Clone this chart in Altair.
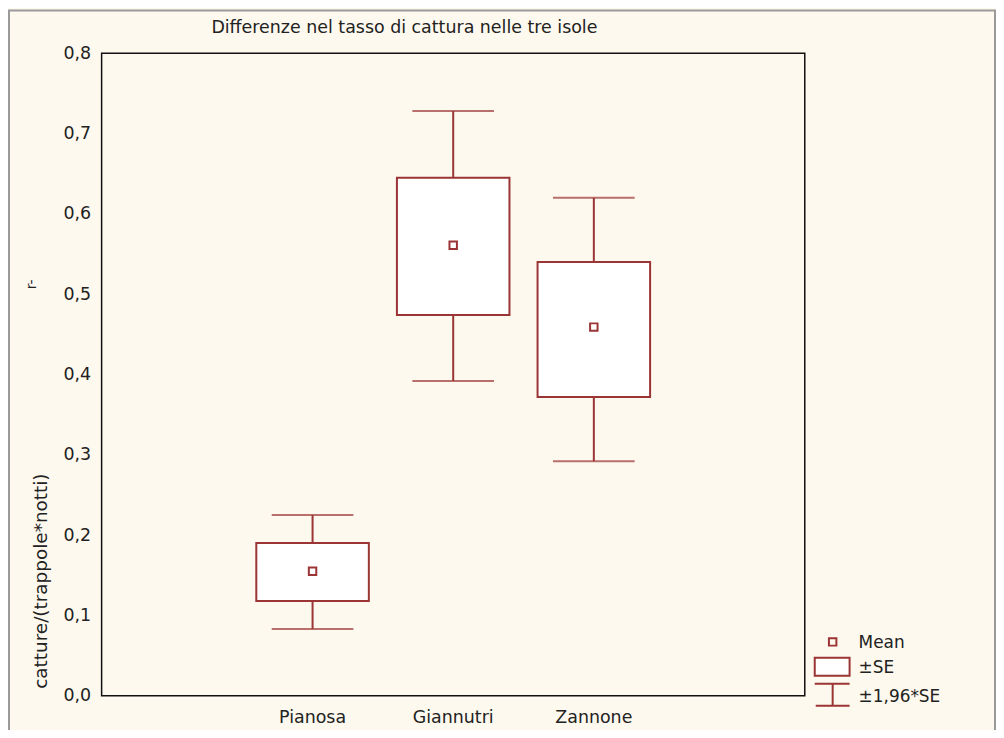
import altair as alt
import pandas as pd

islands = ["Pianosa", "Giannutri", "Zannone"]
mean = [0.155, 0.561, 0.459]
se_low = [0.118, 0.474, 0.372]
se_high = [0.190, 0.645, 0.540]
ci_low = [0.083, 0.392, 0.292]
ci_high = [0.225, 0.728, 0.620]

y_ticks = [0.0, 0.1, 0.2, 0.3, 0.4, 0.5, 0.6, 0.7, 0.8]
legend_labels = ["Mean", "±SE", "±1,96*SE"]
title_text = "Differenze nel tasso di cattura nelle tre isole"
ytitle_text = "catture/(trappole*notti)"

COL = "#9B3535"
BG = "#FEF9EE"
FONT = "DejaVu Sans"
FS = 17.5
TXT = "#222"

df = pd.DataFrame({
    "island": islands, "mean": mean, "se_low": se_low, "se_high": se_high,
    "ci_low": ci_low, "ci_high": ci_high,
})

x_domain = ["_a"] + islands + ["_b"]
xenc = alt.X("island:N", sort=x_domain,
             scale=alt.Scale(domain=x_domain, paddingInner=0, paddingOuter=0),
             axis=alt.Axis(title=None, ticks=False, domain=False, labelAngle=0,
                           labelExpr="indexof(datum.value,'_')==0 ? '' : datum.value",
                           labelFontSize=FS, labelFont=FONT, labelColor=TXT,
                           labelPadding=13))
yscale = alt.Scale(domain=[0, 0.8], nice=False, zero=True)
yaxis = alt.Axis(title=None, values=y_ticks, ticks=False, domain=False, grid=False,
                 labelExpr="replace(format(datum.value,'.1f'),'.',',')",
                 labelFontSize=FS, labelFont=FONT, labelColor=TXT, labelPadding=11)

base = alt.Chart(df)

whisk_lo = base.mark_rule(color=COL, strokeWidth=2).encode(
    x=xenc, y=alt.Y("ci_low:Q", scale=yscale, axis=yaxis), y2="se_low:Q")
whisk_hi = base.mark_rule(color=COL, strokeWidth=2).encode(
    x=xenc, y=alt.Y("se_high:Q", scale=yscale, axis=yaxis), y2="ci_high:Q")
cap_lo = base.mark_tick(color=COL, size=82, thickness=2).encode(
    x=xenc, y=alt.Y("ci_low:Q", scale=yscale, axis=yaxis))
cap_hi = base.mark_tick(color=COL, size=82, thickness=2).encode(
    x=xenc, y=alt.Y("ci_high:Q", scale=yscale, axis=yaxis))
box = base.mark_bar(fill="white", stroke=COL, strokeWidth=2, size=113).encode(
    x=xenc, y=alt.Y("se_low:Q", scale=yscale, axis=yaxis), y2="se_high:Q")
pts = base.mark_square(filled=False, color=COL, size=56, strokeWidth=2, opacity=1).encode(
    x=xenc, y=alt.Y("mean:Q", scale=yscale, axis=yaxis))

one = pd.DataFrame({"k": [0]})


def txt(text, x, y, **kw):
    opts = dict(text=text, fontSize=FS, font=FONT, color=TXT,
                align="center", baseline="middle")
    opts.update(kw)
    return alt.Chart(one).mark_text(**opts).encode(x=alt.value(x), y=alt.value(y))


title = txt(title_text, 304, -25, fontSize=17.5)
ytitle = txt(ytitle_text, -61, 530, angle=270, fontSize=18.5)
yglitch = txt("r-", -70, 232, angle=270, fontSize=14)

frame = alt.Chart(one).mark_rect(fill=None, stroke="#9a9a9a", strokeWidth=2).encode(
    x=alt.value(-93), x2=alt.value(897), y=alt.value(-43), y2=alt.value(760))

# legend
leg_sq = alt.Chart(one).mark_square(filled=False, color=COL, size=56, strokeWidth=2,
                                    opacity=1).encode(
    x=alt.value(734), y=alt.value(591))
leg_box = alt.Chart(one).mark_rect(fill="white", stroke=COL, strokeWidth=2).encode(
    x=alt.value(716), x2=alt.value(751), y=alt.value(607), y2=alt.value(625))
leg_top = alt.Chart(one).mark_rule(color=COL, strokeWidth=2).encode(
    x=alt.value(716), x2=alt.value(751), y=alt.value(633))
leg_bot = alt.Chart(one).mark_rule(color=COL, strokeWidth=2).encode(
    x=alt.value(717), x2=alt.value(751), y=alt.value(655))
leg_vert = alt.Chart(one).mark_rule(color=COL, strokeWidth=2).encode(
    x=alt.value(734), y=alt.value(633), y2=alt.value(655))
leg_t1 = txt(legend_labels[0], 760, 592, align="left", fontSize=17)
leg_t2 = txt(legend_labels[1], 760, 617, align="left", fontSize=17)
leg_t3 = txt(legend_labels[2], 760, 646, align="left", fontSize=17)

chart = alt.layer(
    frame, whisk_lo, whisk_hi, cap_lo, cap_hi, box, pts, title, ytitle, yglitch,
    leg_sq, leg_box, leg_top, leg_bot, leg_vert, leg_t1, leg_t2, leg_t3,
).properties(
    width=706, height=645,
    autosize=alt.AutoSizeParams(type="none"),
    padding={"left": 94, "top": 44, "right": 192, "bottom": 33},
    background=BG,
).configure_view(stroke="#111", strokeWidth=1.5)

chart.save("out.html", embed_options={"renderer": "svg", "actions": False})
